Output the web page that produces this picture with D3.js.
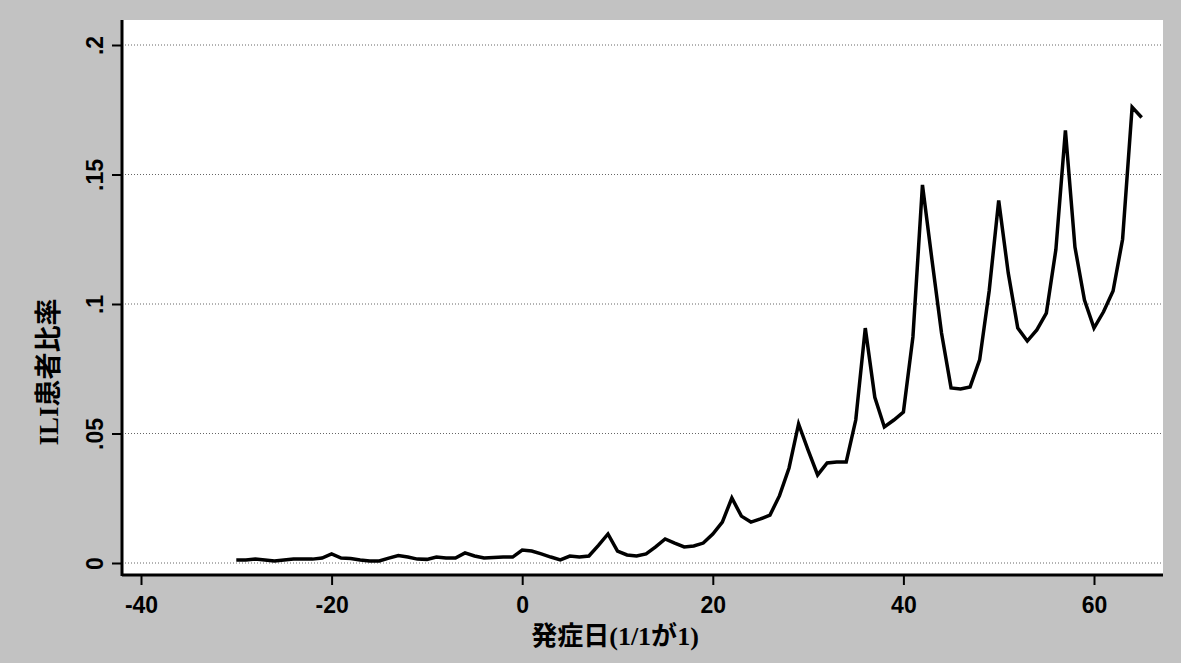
<!DOCTYPE html>
<html>
<head>
<meta charset="utf-8">
<script src="https://cdn.jsdelivr.net/npm/d3@7"></script>
<style>
  html, body { margin: 0; padding: 0; background: #c2c2c2; }
  .tick-label { font-family: "Liberation Sans", Arial, sans-serif; font-weight: bold; font-size: 23px; fill: #000; }
</style>
</head>
<body>
<div id="chart"></div>
<script>
// onset day (1/1 = day 1)
const days = [
  -30, -29, -28, -27, -26, -25, -24, -23, -22, -21,
  -20, -19, -18, -17, -16, -15, -14, -13, -12, -11,
  -10, -9, -8, -7, -6, -5, -4, -3, -2, -1,
  0, 1, 2, 3, 4, 5, 6, 7, 8, 9,
  10, 11, 12, 13, 14, 15, 16, 17, 18, 19,
  20, 21, 22, 23, 24, 25, 26, 27, 28, 29,
  30, 31, 32, 33, 34, 35, 36, 37, 38, 39,
  40, 41, 42, 43, 44, 45, 46, 47, 48, 49,
  50, 51, 52, 53, 54, 55, 56, 57, 58, 59,
  60, 61, 62, 63, 64, 65
];

// ILI patient ratio
const iliRatio = [
  0.012, 0.012, 0.015, 0.012, 0.008, 0.012, 0.015, 0.015, 0.015, 0.019,
  0.035, 0.019, 0.017, 0.012, 0.008, 0.008, 0.019, 0.029, 0.023, 0.015,
  0.014, 0.023, 0.019, 0.019, 0.039, 0.027, 0.019, 0.021, 0.023, 0.023,
  0.050, 0.046, 0.035, 0.023, 0.012, 0.027, 0.023, 0.027, 0.068, 0.112,
  0.046, 0.031, 0.027, 0.035, 0.062, 0.093, 0.077, 0.062, 0.066, 0.077,
  0.112, 0.158, 0.251, 0.181, 0.158, 0.170, 0.185, 0.260, 0.367, 0.537,
  0.436, 0.340, 0.386, 0.390, 0.390, 0.552, 0.907, 0.640, 0.525, 0.552,
  0.583, 0.873, 1.460, 1.170, 0.888, 0.676, 0.672, 0.680, 0.784, 1.050,
  1.400, 1.120, 0.907, 0.857, 0.900, 0.965, 1.210, 1.670, 1.220, 1.015,
  0.907, 0.970, 1.050, 1.250, 1.760, 1.720
];

const xTicks = [-40, -20, 0, 20, 40, 60];
const xTickLabels = ["-40", "-20", "0", "20", "40", "60"];
const yTicks = [0, 0.5, 1, 1.5, 2];
const yTickLabels = ["0", ".05", ".1", ".15", ".2"];

const width = 1181;
const height = 663;
const plot = { left: 122, right: 1163, top: 20, bottom: 575 };

const svg = d3.select("#chart").append("svg")
    .attr("width", width)
    .attr("height", height);

// gray page background
svg.append("rect")
    .attr("width", width)
    .attr("height", height)
    .attr("fill", "#c2c2c2");

// white plot area
svg.append("rect")
    .attr("x", plot.left)
    .attr("y", plot.top)
    .attr("width", plot.right - plot.left)
    .attr("height", plot.bottom - plot.top)
    .attr("fill", "#fff");

// Scales
const xScale = d3.scaleLinear()
    .domain([-40, 60])
    .range([141, 1094]);

const yScale = d3.scaleLinear()
    .domain([0, 2])
    .range([563, 45]);

// Gridlines
svg.append("g")
    .selectAll("line")
    .data(yTicks)
    .join("line")
    .attr("x1", plot.left)
    .attr("x2", plot.right)
    .attr("y1", d => yScale(d))
    .attr("y2", d => yScale(d))
    .attr("stroke", "#666")
    .attr("stroke-width", 1)
    .attr("stroke-dasharray", "1,2");

// Axes
const xAxis = svg.append("g")
    .attr("transform", `translate(0, ${plot.bottom})`)
    .call(d3.axisBottom(xScale).tickValues(xTicks).tickFormat((d, i) => xTickLabels[i])
        .tickSize(10).tickPadding(8).tickSizeOuter(0));
xAxis.select(".domain").remove();
xAxis.selectAll(".tick line").attr("stroke", "#000").attr("stroke-width", 2);
xAxis.selectAll(".tick text").attr("class", "tick-label").attr("dy", "0.85em");

const yAxis = svg.append("g")
    .attr("transform", `translate(${plot.left}, 0)`)
    .call(d3.axisLeft(yScale).tickValues(yTicks).tickFormat((d, i) => yTickLabels[i])
        .tickSize(10).tickSizeOuter(0));
yAxis.select(".domain").remove();
yAxis.selectAll(".tick line").attr("stroke", "#000").attr("stroke-width", 2);
yAxis.selectAll(".tick text")
    .attr("class", "tick-label")
    .attr("x", null)
    .attr("dy", null)
    .attr("text-anchor", "middle")
    .attr("transform", "translate(-19, 0) rotate(-90)");

// axis lines
svg.append("line")
    .attr("x1", plot.left).attr("x2", plot.left)
    .attr("y1", plot.top).attr("y2", plot.bottom + 1)
    .attr("stroke", "#000").attr("stroke-width", 3);
svg.append("line")
    .attr("x1", plot.left).attr("x2", plot.right)
    .attr("y1", plot.bottom).attr("y2", plot.bottom)
    .attr("stroke", "#000").attr("stroke-width", 3);

// Data line
const line = d3.line()
    .x((d, i) => xScale(days[i]))
    .y(d => yScale(d));

svg.append("path")
    .datum(iliRatio)
    .attr("d", line)
    .attr("fill", "none")
    .attr("stroke", "#000")
    .attr("stroke-width", 3.5)
    .attr("stroke-linejoin", "miter");

// Axis titles
const xLabel = svg.append("text")
    .attr("x", 615)
    .attr("y", 645)
    .attr("text-anchor", "middle")
    .style("font-size", "26px")
    .style("font-weight", "bold");
xLabel.append("tspan").style("font-family", "'Noto Sans CJK JP', sans-serif").text("発症日");
xLabel.append("tspan").style("font-family", "'Liberation Serif', serif").text("(1/1");
xLabel.append("tspan").style("font-family", "'Noto Sans CJK JP', sans-serif").text("が");
xLabel.append("tspan").style("font-family", "'Liberation Serif', serif").text("1)");

const yLabel = svg.append("text")
    .attr("transform", "translate(58, 372) rotate(-90)")
    .attr("text-anchor", "middle")
    .style("font-size", "27px")
    .style("font-weight", "bold");
yLabel.append("tspan").style("font-family", "'Liberation Serif', serif").text("ILI");
yLabel.append("tspan").style("font-family", "'Noto Sans CJK JP', sans-serif").text("患者比率");
</script>
</body>
</html>
